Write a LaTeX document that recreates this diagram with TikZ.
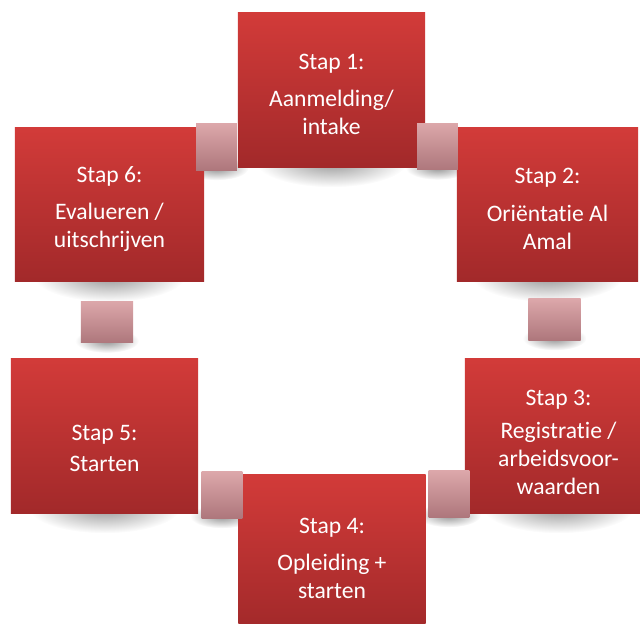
\documentclass[tikz,border=0pt]{standalone}
\usepackage{fontspec}
\setmainfont{Carlito}[Ligatures=NoCommon]
\usetikzlibrary{backgrounds}
\definecolor{boxtop}{HTML}{D23B39}
\definecolor{boxbot}{HTML}{A2292A}
\definecolor{linktop}{HTML}{DCA7AA}
\definecolor{linkbot}{HTML}{AE777C}
\begin{document}
\begin{tikzpicture}[x=0.025cm,y=-0.025cm,
  stepbox/.style={rectangle,inner sep=0pt,minimum width=4.675cm,minimum height=3.85cm,
    top color=boxtop,bottom color=boxbot,text=white,align=center,
    font=\fontsize{16.8}{20}\selectfont},
  hlink/.style={rectangle,inner sep=0pt,minimum width=1.02cm,minimum height=1.15cm,
    top color=linktop,bottom color=linkbot},
  vlink/.style={rectangle,inner sep=0pt,minimum width=1.3cm,minimum height=1.03cm,
    top color=linktop,bottom color=linkbot},
  boxshade/.style={inner color=black!42,outer color=white}]
  \useasboundingbox (0,0) rectangle (640,624);
  \node[stepbox,text height=63pt] (s1) at (331.5,90) {Stap 1:\\[6pt]Aanmelding/\\intake};
  \node[stepbox,text height=64pt,minimum width=4.525cm] (s2) at (547.5,204.5) {Stap 2:\\[7pt]Oriëntatie Al\\Amal};
  \node[stepbox,text height=83pt] (s3) at (558.5,436) {Stap 3:\\[3pt]Registratie /\\arbeidsvoor-\\waarden};
  \node[stepbox,text height=66pt] (s4) at (332,552) {Stap 4:\\[6pt]Opleiding +\\starten};
  \node[stepbox,text height=51pt] (s5) at (104.5,436) {Stap 5:\\[2pt]Starten};
  \node[stepbox,text height=64pt,minimum width=4.725cm] (s6) at (109.5,204.5) {Stap 6:\\[6pt]Evalueren /\\uitschrijven};
  % links between the steps
  \node[hlink] (l61) at (216.5,147) {};
  \node[hlink] (l12) at (437.5,146.5) {};
  \node[vlink] (l23) at (554.5,319.5) {};
  \node[hlink] (l43) at (449,494) {};
  \node[hlink] (l54) at (222,495) {};
  \node[vlink] (l65) at (107,322) {};
  \begin{scope}[on background layer]
    \foreach \s in {s1,s2,s3,s4,s5,s6}
      \shade[boxshade] ([yshift=0.15cm]\s.south) ellipse [x radius=1.9cm,y radius=0.65cm];
    \foreach \l in {l61,l12,l23,l43,l54,l65}
      \shade[boxshade] ([yshift=0.05cm]\l.south) ellipse [x radius=0.8cm,y radius=0.3cm];
  \end{scope}
\end{tikzpicture}
\end{document}
